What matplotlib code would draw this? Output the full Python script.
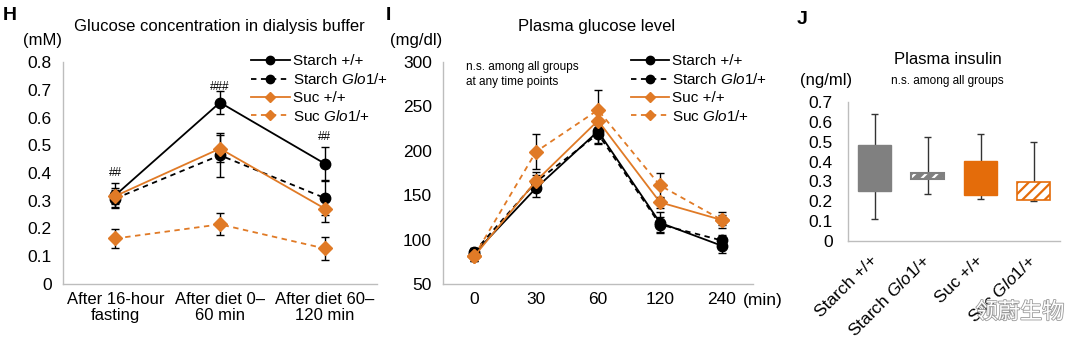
import matplotlib
matplotlib.use("Agg")
import matplotlib.pyplot as plt
import matplotlib.patheffects as pe

plt.rcParams['font.family'] = ['Liberation Sans', 'Noto Sans CJK SC', 'DejaVu Sans']
plt.rcParams['mathtext.fontset'] = 'custom'
plt.rcParams['mathtext.rm'] = 'Liberation Sans'
plt.rcParams['mathtext.it'] = 'Liberation Sans:italic'
plt.rcParams['hatch.linewidth'] = 1.6

ORANGE = '#e07a26'
ORANGE_BAR = '#e46c0a'
GRAY_BAR = '#808080'
SPINE = '#bdbdbd'

series_labels = ['Starch +/+', r'Starch $\it{Glo1}$/+', 'Suc +/+', r'Suc $\it{Glo1}$/+']

# H: glucose in dialysis buffer (mM)
h_cats = ['After 16-hour\nfasting', 'After diet 0–\n60 min', 'After diet 60–\n120 min']
h_starch_wt = [0.32, 0.654, 0.434]
h_starch_wt_err = [0.045, 0.04, 0.06]
h_starch_glo = [0.308, 0.464, 0.31]
h_starch_glo_err = [0.03, 0.08, 0.06]
h_suc_wt = [0.317, 0.488, 0.272]
h_suc_wt_err = [0.03, 0.05, 0.05]
h_suc_glo = [0.164, 0.215, 0.128]
h_suc_glo_err = [0.033, 0.04, 0.04]
h_marks = ['##', '###', '##']
h_mark_y = [0.40, 0.71, 0.53]

# I: plasma glucose (mg/dl)
i_cats = ['0', '30', '60', '120', '240']
i_starch_wt = [84, 158, 222, 119, 93]
i_starch_wt_err = [6, 10, 14, 12, 8]
i_starch_glo = [86, 165, 219, 117, 99]
i_starch_glo_err = [5, 8, 10, 8, 6]
i_suc_wt = [81, 166, 234, 142, 122]
i_suc_wt_err = [5, 10, 12, 6, 6]
i_suc_glo = [81, 199, 246, 161, 122]
i_suc_glo_err = [5, 20, 23, 14, 9]

# J: plasma insulin (ng/ml), box = q1..q3, whiskers = min..max
j_min = [0.109, 0.238, 0.213, 0.203]
j_q1 = [0.25, 0.31, 0.233, 0.205]
j_q3 = [0.482, 0.342, 0.405, 0.299]
j_max = [0.641, 0.524, 0.537, 0.50]

W, H = 1080, 339
fig = plt.figure(figsize=(W / 100, H / 100), dpi=100)


def box(l, t, r, b):
    return [l / W, 1 - b / H, (r - l) / W, (b - t) / H]


def px(x, y):
    return x / W, 1 - y / H


def style_axes(ax):
    for s in ['top', 'right']:
        ax.spines[s].set_visible(False)
    for s in ['left', 'bottom']:
        ax.spines[s].set_color(SPINE)
        ax.spines[s].set_linewidth(1.0)
    ax.tick_params(length=0, labelsize=12.5, pad=6)
    ax.tick_params(axis='y', pad=8)


def draw_lines(ax, xs, data):
    styles = [('k', '-', 'o'), ('k', (0, (3, 2.5)), 'o'),
              (ORANGE, '-', 'D'), (ORANGE, (0, (3, 2.5)), 'D')]
    for (vals, errs), (c, ls, mk), lab in zip(data, styles, series_labels):
        ax.errorbar(xs, vals, yerr=errs, fmt='none', ecolor='k',
                    elinewidth=1, capsize=3, capthick=1, zorder=2)
        ax.plot(xs, vals, color=c, ls=ls, lw=1.3, marker=mk,
                ms=7.5 if mk == 'o' else 7, mfc=c, mec=c, label=lab, zorder=3)


def add_legend(ax, x0):
    ax.legend(loc='upper left', bbox_to_anchor=(x0, 1.035), frameon=False,
              fontsize=11, handlelength=2.5, handletextpad=0.2, labelspacing=0.25,
              borderpad=0, borderaxespad=0, markerscale=0.8)


# ---- H ----
axh = fig.add_axes(box(63, 62, 377, 284))
xh = range(len(h_cats))
draw_lines(axh, xh, [(h_starch_wt, h_starch_wt_err), (h_starch_glo, h_starch_glo_err),
                     (h_suc_wt, h_suc_wt_err), (h_suc_glo, h_suc_glo_err)])
for x, m, y in zip(xh, h_marks, h_mark_y):
    axh.text(x, y, m, ha='center', va='center', fontsize=8.5)
axh.set_xlim(-0.5, 2.5)
axh.set_ylim(0, 0.8)
axh.set_yticks([0, 0.1, 0.2, 0.3, 0.4, 0.5, 0.6, 0.7, 0.8])
axh.set_yticklabels(['0', '0.1', '0.2', '0.3', '0.4', '0.5', '0.6', '0.7', '0.8'])
axh.set_xticks(list(xh))
axh.set_xticklabels(h_cats, linespacing=1.05)
style_axes(axh)
axh.tick_params(axis='x', labelsize=12)
add_legend(axh, 0.60)

fig.text(*px(3, 15), 'H', fontsize=14, fontweight='bold', ha='left', va='center')
fig.text(*px(219, 27), 'Glucose concentration in dialysis buffer', fontsize=12,
         ha='center', va='center')
fig.text(*px(23, 40), '(mM)', fontsize=12, ha='left', va='center')

# ---- I ----
axi = fig.add_axes(box(443, 62, 753, 284))
xi = range(len(i_cats))
draw_lines(axi, xi, [(i_starch_wt, i_starch_wt_err), (i_starch_glo, i_starch_glo_err),
                     (i_suc_wt, i_suc_wt_err), (i_suc_glo, i_suc_glo_err)])
axi.set_xlim(-0.5, 4.5)
axi.set_ylim(50, 300)
axi.set_yticks([50, 100, 150, 200, 250, 300])
axi.set_xticks(list(xi))
axi.set_xticklabels(i_cats)
style_axes(axi)
add_legend(axi, 0.605)
axi.text(0.074, 1.005, 'n.s. among all groups\nat any time points', transform=axi.transAxes,
         fontsize=8.5, ha='left', va='top', linespacing=1.3)

fig.text(*px(386, 15), 'I', fontsize=14, fontweight='bold', ha='left', va='center')
fig.text(*px(597, 27), 'Plasma glucose level', fontsize=12, ha='center', va='center')
fig.text(*px(390, 40), '(mg/dl)', fontsize=12, ha='left', va='center')
fig.text(*px(743, 301), '(min)', fontsize=12.5, ha='left', va='center')

# ---- J ----
axj = fig.add_axes(box(848, 102, 1060, 241))
xj = list(range(len(j_min)))
axj.vlines(xj, j_min, j_max, color='#333333', lw=1, zorder=1)
axj.hlines(j_min + j_max, [x - 0.06 for x in xj] * 2, [x + 0.06 for x in xj] * 2,
           color='#333333', lw=1, zorder=1)
heights = [q3 - q1 for q1, q3 in zip(j_q1, j_q3)]
bw = 0.64
axj.bar(xj[0], heights[0], bottom=j_q1[0], width=bw, color=GRAY_BAR,
        edgecolor=GRAY_BAR, zorder=2)
axj.bar(xj[1], heights[1], bottom=j_q1[1], width=bw, color=GRAY_BAR,
        edgecolor='white', hatch='///', lw=0, zorder=2)
axj.bar(xj[1], heights[1], bottom=j_q1[1], width=bw, fill=False,
        edgecolor=GRAY_BAR, lw=1.5, zorder=3)
axj.bar(xj[2], heights[2], bottom=j_q1[2], width=bw, color=ORANGE_BAR,
        edgecolor=ORANGE_BAR, zorder=2)
axj.bar(xj[3], heights[3], bottom=j_q1[3], width=bw, color='white',
        edgecolor=ORANGE_BAR, hatch='///', lw=1.2, zorder=2)
axj.set_xlim(-0.5, 3.5)
axj.set_ylim(0, 0.7)
axj.set_yticks([0, 0.1, 0.2, 0.3, 0.4, 0.5, 0.6, 0.7])
axj.set_yticklabels(['0', '0.1', '0.2', '0.3', '0.4', '0.5', '0.6', '0.7'])
axj.set_xticks(xj)
axj.set_xticklabels(series_labels, rotation=45, ha='right', va='center',
                    rotation_mode='anchor')
style_axes(axj)
axj.tick_params(axis='x', pad=12)
axj.tick_params(axis='y', pad=11)

fig.text(*px(797, 19), 'J', fontsize=14, fontweight='bold', ha='left', va='center')
fig.text(*px(948, 59), 'Plasma insulin', fontsize=12, ha='center', va='center')
fig.text(*px(800, 81), '(ng/ml)', fontsize=12, ha='left', va='center')
fig.text(*px(947, 81), 'n.s. among all groups', fontsize=8.5, ha='center', va='center')

fig.text(*px(1020, 312), '领蔚生物', fontsize=16, ha='center', va='center',
         family=['Noto Sans CJK SC'], color='white',
         path_effects=[pe.withStroke(linewidth=1.2, foreground='#9a9a9a')])

fig.savefig('out.png', dpi=100)
